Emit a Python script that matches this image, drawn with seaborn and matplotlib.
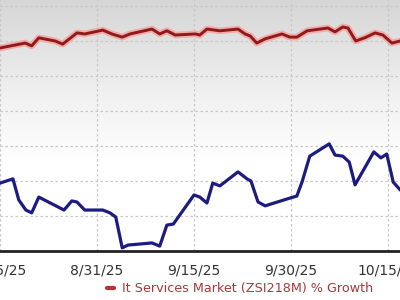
import numpy as np
import pandas as pd
import matplotlib
matplotlib.use("Agg")
import matplotlib.pyplot as plt
import matplotlib.patheffects as pe
import seaborn as sns

# x positions in days since 8/15/25
red_days = [0, 3.9, 4.9, 6.0, 8.5, 9.7, 11.9, 13.1, 15.9, 17.3, 18.9, 20.1, 23.5, 24.7,
            25.8, 27.1, 30.2, 30.9, 32.0, 34.0, 36.8, 37.9, 38.7, 39.7, 41.0, 43.6, 44.8,
            45.9, 47.5, 49.5, 50.7, 51.8, 53.0, 53.8, 55.0, 56.4, 58.0, 59.2, 60.6, 61.9]
red_vals = [5.80, 5.94, 5.86, 6.09, 6.00, 5.91, 6.23, 6.20, 6.31, 6.20, 6.11, 6.20, 6.34, 6.20,
            6.29, 6.17, 6.20, 6.17, 6.34, 6.29, 6.34, 6.20, 6.14, 5.94, 6.06, 6.20, 6.11,
            6.11, 6.29, 6.34, 6.37, 6.26, 6.40, 6.37, 6.00, 6.09, 6.23, 6.17, 5.94, 6.00]

blue_days = [0, 2.0, 2.9, 4.0, 4.9, 6.0, 9.9, 11.1, 11.9, 13.1, 15.9, 17.0, 17.9, 18.9, 19.8,
             23.5, 24.7, 25.8, 26.8, 30.0, 30.9, 32.0, 32.9, 34.0, 36.8, 38.2, 38.8, 39.9,
             41.0, 44.8, 45.9, 46.7, 47.9, 50.9, 51.8, 53.0, 54.0, 54.9, 57.8, 58.9, 59.8,
             60.8, 61.9]
blue_vals = [1.94, 2.06, 1.46, 1.17, 1.09, 1.54, 1.17, 1.43, 1.40, 1.17, 1.17, 1.09, 0.97, 0.09,
             0.17, 0.23, 0.14, 0.74, 0.77, 1.60, 1.54, 1.37, 1.94, 1.86, 2.26, 2.06, 2.00, 1.40,
             1.29, 1.51, 1.57, 1.97, 2.71, 3.06, 2.74, 2.71, 2.54, 1.89, 2.83, 2.66, 2.77,
             1.97, 1.74]

tick_pos = [0, 15, 30, 45, 60]
tick_labels = ["8/15/25", "8/31/25", "9/15/25", "9/30/25", "10/15/25"]
legend_label = "It Services Market (ZSI218M) % Growth"

sns.set_style("white")
plt.rcParams['font.family'] = ['DejaVu Sans']

fig = plt.figure(figsize=(4, 3), dpi=100)
ax = fig.add_axes([0, 1 - 251 / 300, 1, 251 / 300])

# gradient background
grad = np.linspace(0, 1, 256).reshape(-1, 1)
cmap = matplotlib.colors.LinearSegmentedColormap.from_list(
    "bg", [(0, "#d6d6d6"), (0.4, "#f2f2f2"), (0.65, "#ffffff"), (1, "#ffffff")])
ax.imshow(grad, aspect="auto", cmap=cmap, extent=[0, 1, 0, 1],
          transform=ax.transAxes, origin="upper", zorder=0)

red_df = pd.DataFrame({"day": red_days, "val": red_vals})
blue_df = pd.DataFrame({"day": blue_days, "val": blue_vals})

sns.lineplot(data=blue_df, x="day", y="val", ax=ax, color="#1c1c80", lw=2.3, zorder=3)
sns.lineplot(data=red_df, x="day", y="val", ax=ax, color="#8e1a1a", lw=2.1, zorder=4,
             label=legend_label,
             path_effects=[pe.Stroke(linewidth=4.8, foreground="#f2aaaa"), pe.Normal()])

ax.set_xlim(0, 61.85)
ax.set_ylim(0, 7.17)
ax.set_yticks(range(1, 8))
ax.set_yticklabels([])
ax.set_xticks(tick_pos)
ax.set_xticklabels(tick_labels, fontsize=10, color="#333333")
ax.tick_params(axis="x", direction="out", length=5, width=1, color="#333333", pad=4)
ax.tick_params(axis="y", length=0)
ax.grid(True, color="#c8c8c8", linestyle=(0, (2, 2)), linewidth=0.9, zorder=1)
ax.set_axisbelow(True)
ax.set_xlabel("")
ax.set_ylabel("")
for s in ["top", "left", "right"]:
    ax.spines[s].set_visible(False)
ax.spines["bottom"].set_color("#222222")
ax.spines["bottom"].set_linewidth(2)

ax.get_legend().remove()
h = [matplotlib.lines.Line2D([], [], color="#c03030", lw=3)]
leg = fig.legend(h, [legend_label], loc="center", bbox_to_anchor=(0.60, 0.037),
                 frameon=False, handlelength=0.6, handletextpad=0.6,
                 prop={"size": 9.2})
for t in leg.get_texts():
    t.set_color("#a83838")

fig.savefig("out.png", dpi=100)
